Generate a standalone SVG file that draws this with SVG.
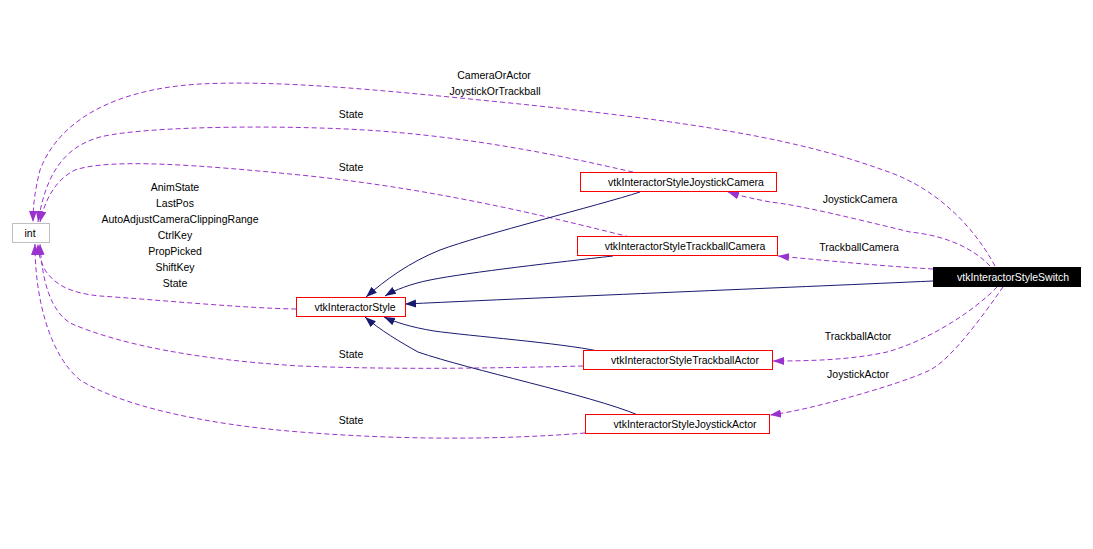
<svg xmlns="http://www.w3.org/2000/svg" width="1093" height="549" viewBox="0 0 1093 549">
<defs>
<style>
text{font-family:"Liberation Sans",Arial,sans-serif;font-size:10.5px;fill:#000}
.n text{text-anchor:middle}
.box{fill:#fff;stroke:#ff0000;stroke-width:1}
.assoc{fill:none;stroke:#9a32cd;stroke-width:1;stroke-dasharray:5,3}
.inh{fill:none;stroke:#191970;stroke-width:1}
.lbl{text-anchor:middle}
</style>
<marker id="ap" markerUnits="userSpaceOnUse" markerWidth="12" markerHeight="10" refX="11" refY="4" orient="auto"><path d="M0,0 L11,4 L0,8 z" fill="#9a32cd"/></marker>
<marker id="an" markerUnits="userSpaceOnUse" markerWidth="12" markerHeight="10" refX="11" refY="4" orient="auto"><path d="M0,0 L11,4 L0,8 z" fill="#191970"/></marker>
</defs>
<rect width="1093" height="549" fill="#fff"/>
<g id="edges">
<path class="assoc" marker-end="url(#ap)" d="M995,266 C970,220 930,185 883,170 C800,140 700,122 500,102 C380,90 280,80 200,84 C100,90 55,130 40,170 C35,190 33,205 33,222"/>
<path class="assoc" marker-end="url(#ap)" d="M633,172 C600,165 500,140 380,131 C300,125 150,125 100,137 C60,148 45,180 38,222"/>
<path class="assoc" marker-end="url(#ap)" d="M630,237 C580,225 450,190 300,175 C200,165 110,158 75,170 C55,180 45,200 40,222"/>
<path class="assoc" marker-end="url(#ap)" d="M296,309 C240,308 160,300 100,296 C70,293 55,285 45,270 C40,260 38,252 38,244"/>
<path class="assoc" marker-end="url(#ap)" d="M583,366 C500,368 400,370 300,366 C200,360 120,345 70,323 C50,310 42,280 40,244"/>
<path class="assoc" marker-end="url(#ap)" d="M585,433 C500,440 400,440 300,432 C200,424 120,405 80,380 C50,355 35,300 35,244"/>
<path class="inh" marker-end="url(#an)" d="M640,192 C600,205 480,235 440,250 C410,262 385,280 366,297"/>
<path class="inh" marker-end="url(#an)" d="M613,256 C560,262 470,272 430,280 C410,284 395,290 385,296"/>
<path class="inh" marker-end="url(#an)" d="M933,281 C800,287 600,295 405,304"/>
<path class="inh" marker-end="url(#an)" d="M598,351 C560,343 470,336 434,331 C410,327 395,322 384,317"/>
<path class="inh" marker-end="url(#an)" d="M638,415 C590,395 470,370 418,352 C400,342 380,330 365,317"/>
<path class="assoc" marker-end="url(#ap)" d="M990,266 C970,245 940,235 910,232 C860,220 800,205 770,202 C755,199 740,196 728,192"/>
<path class="assoc" marker-end="url(#ap)" d="M933,269 C880,266 820,260 778,256"/>
<path class="assoc" marker-end="url(#ap)" d="M997,287 C975,310 930,340 887,352 C850,360 810,361 773,361"/>
<path class="assoc" marker-end="url(#ap)" d="M1003,287 C980,320 950,360 930,370 C910,380 860,395 820,405 C800,410 785,413 770,415"/>
<text class="lbl" x="494" y="79">CameraOrActor</text>
<text class="lbl" x="495" y="95">JoystickOrTrackball</text>
<text class="lbl" x="351" y="118">State</text>
<text class="lbl" x="351" y="171">State</text>
<text class="lbl" x="175" y="191">AnimState</text>
<text class="lbl" x="175" y="207">LastPos</text>
<text class="lbl" x="180" y="223">AutoAdjustCameraClippingRange</text>
<text class="lbl" x="175" y="239">CtrlKey</text>
<text class="lbl" x="175" y="255">PropPicked</text>
<text class="lbl" x="175" y="271">ShiftKey</text>
<text class="lbl" x="175" y="287">State</text>
<text class="lbl" x="860" y="203">JoystickCamera</text>
<text class="lbl" x="859" y="251">TrackballCamera</text>
<text class="lbl" x="858" y="340">TrackballActor</text>
<text class="lbl" x="858" y="378">JoystickActor</text>
<text class="lbl" x="351" y="358">State</text>
<text class="lbl" x="351" y="424">State</text>
</g>
<g id="int" class="n"><rect x="12.5" y="223.5" width="37" height="19" fill="#fff" stroke="#bfbfbf"/><text x="30" y="237">int</text></g>
<g id="vtkInteractorStyle" class="n"><rect class="box" x="296.5" y="297.5" width="109" height="19"/><text x="355" y="311">vtkInteractorStyle</text></g>
<g id="vtkInteractorStyleJoystickCamera" class="n"><rect class="box" x="580.5" y="172.5" width="196" height="19"/><text x="686" y="186">vtkInteractorStyleJoystickCamera</text></g>
<g id="vtkInteractorStyleTrackballCamera" class="n"><rect class="box" x="577.5" y="236.5" width="200" height="19"/><text x="685" y="250">vtkInteractorStyleTrackballCamera</text></g>
<g id="vtkInteractorStyleTrackballActor" class="n"><rect class="box" x="583.5" y="350.5" width="189" height="19"/><text x="685" y="364">vtkInteractorStyleTrackballActor</text></g>
<g id="vtkInteractorStyleJoystickActor" class="n"><rect class="box" x="585.5" y="414.5" width="184" height="19"/><text x="685" y="428">vtkInteractorStyleJoystickActor</text></g>
<g id="vtkInteractorStyleSwitch" class="n"><rect x="933" y="267" width="148" height="20" fill="#000"/><text x="1013" y="281" style="fill:#fff">vtkInteractorStyleSwitch</text></g>
</svg>
